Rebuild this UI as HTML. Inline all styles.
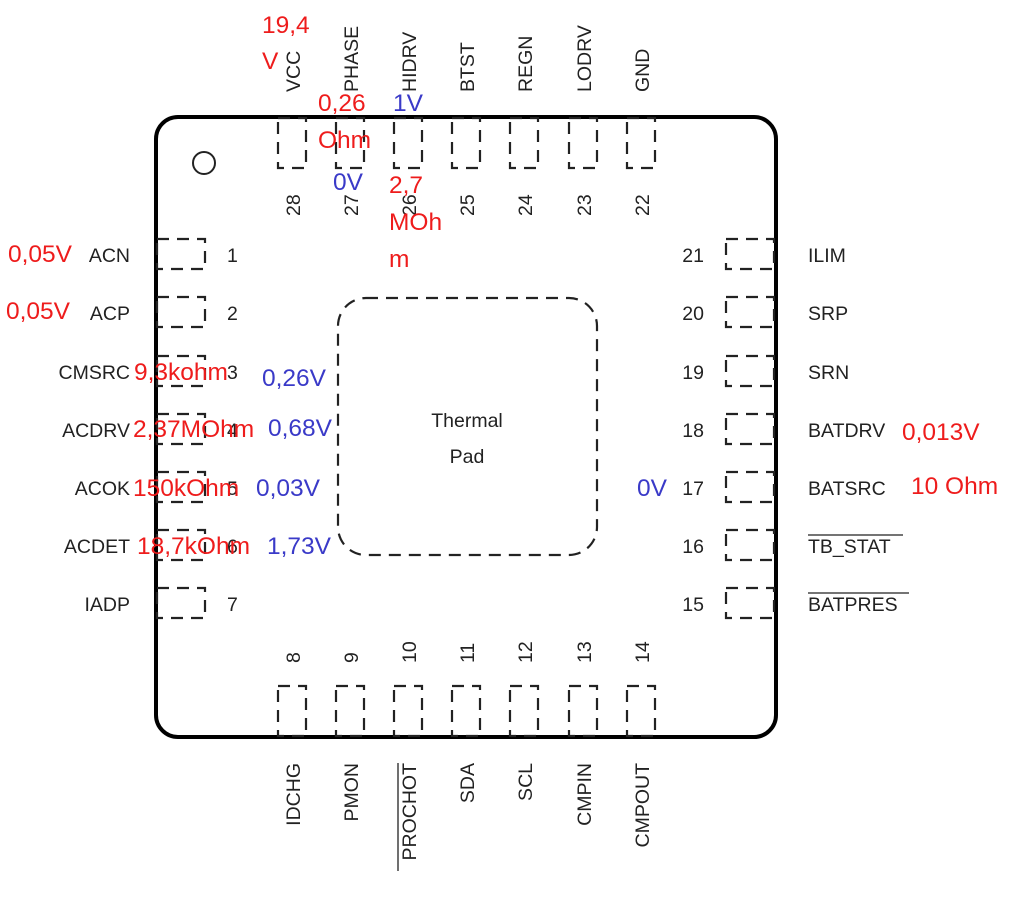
<!DOCTYPE html>
<html><head><meta charset="utf-8"><style>
html,body{margin:0;padding:0;background:#fff;}
svg{display:block;}
.l{font-family:"Liberation Sans",Arial,sans-serif;font-size:19.5px;fill:#222;}
.r{font-family:"Liberation Sans",Arial,sans-serif;font-size:24.5px;fill:#ee1c1c;}
.b{font-family:"Liberation Sans",Arial,sans-serif;font-size:24.5px;fill:#3a3ac8;}
.pad{fill:none;stroke:#222;stroke-width:2.2;stroke-dasharray:12 8;}
</style></head><body>
<svg width="1028" height="908" viewBox="0 0 1028 908" xmlns="http://www.w3.org/2000/svg">
<rect x="156" y="117" width="620" height="620" rx="22" fill="none" stroke="#000" stroke-width="4"/>
<circle cx="204" cy="163" r="11" fill="none" stroke="#222" stroke-width="2"/>
<rect x="338" y="298" width="259" height="257" rx="28" class="pad"/>
<text class="l" x="467" y="427" text-anchor="middle">Thermal</text>
<text class="l" x="467" y="463" text-anchor="middle">Pad</text>

<g>
<rect class="pad" x="278" y="118" width="28" height="50"/>
<rect class="pad" x="336" y="118" width="28" height="50"/>
<rect class="pad" x="394" y="118" width="28" height="50"/>
<rect class="pad" x="452" y="118" width="28" height="50"/>
<rect class="pad" x="510" y="118" width="28" height="50"/>
<rect class="pad" x="569" y="118" width="28" height="50"/>
<rect class="pad" x="627" y="118" width="28" height="50"/>
</g>
<g>
<rect class="pad" x="278" y="686" width="28" height="50"/>
<rect class="pad" x="336" y="686" width="28" height="50"/>
<rect class="pad" x="394" y="686" width="28" height="50"/>
<rect class="pad" x="452" y="686" width="28" height="50"/>
<rect class="pad" x="510" y="686" width="28" height="50"/>
<rect class="pad" x="569" y="686" width="28" height="50"/>
<rect class="pad" x="627" y="686" width="28" height="50"/>
</g>
<g>
<rect class="pad" x="157" y="239" width="48" height="30"/>
<rect class="pad" x="157" y="297" width="48" height="30"/>
<rect class="pad" x="157" y="356" width="48" height="30"/>
<rect class="pad" x="157" y="414" width="48" height="30"/>
<rect class="pad" x="157" y="472" width="48" height="30"/>
<rect class="pad" x="157" y="530" width="48" height="30"/>
<rect class="pad" x="157" y="588" width="48" height="30"/>
</g>
<g>
<rect class="pad" x="726" y="239" width="48" height="30"/>
<rect class="pad" x="726" y="297" width="48" height="30"/>
<rect class="pad" x="726" y="356" width="48" height="30"/>
<rect class="pad" x="726" y="414" width="48" height="30"/>
<rect class="pad" x="726" y="472" width="48" height="30"/>
<rect class="pad" x="726" y="530" width="48" height="30"/>
<rect class="pad" x="726" y="588" width="48" height="30"/>
</g>

<g class="l">
<text transform="translate(300,92) rotate(-90)">VCC</text>
<text transform="translate(358,92) rotate(-90)">PHASE</text>
<text transform="translate(416,92) rotate(-90)">HIDRV</text>
<text transform="translate(474,92) rotate(-90)">BTST</text>
<text transform="translate(532,92) rotate(-90)">REGN</text>
<text transform="translate(591,92) rotate(-90)">LODRV</text>
<text transform="translate(649,92) rotate(-90)">GND</text>
<text transform="translate(300,216) rotate(-90)">28</text>
<text transform="translate(358,216) rotate(-90)">27</text>
<text transform="translate(416,216) rotate(-90)">26</text>
<text transform="translate(474,216) rotate(-90)">25</text>
<text transform="translate(532,216) rotate(-90)">24</text>
<text transform="translate(591,216) rotate(-90)">23</text>
<text transform="translate(649,216) rotate(-90)">22</text>
</g>
<g class="l">
<text transform="translate(300,663) rotate(-90)">8</text>
<text transform="translate(358,663) rotate(-90)">9</text>
<text transform="translate(416,663) rotate(-90)">10</text>
<text transform="translate(474,663) rotate(-90)">11</text>
<text transform="translate(532,663) rotate(-90)">12</text>
<text transform="translate(591,663) rotate(-90)">13</text>
<text transform="translate(649,663) rotate(-90)">14</text>
<text transform="translate(300,763) rotate(-90)" text-anchor="end">IDCHG</text>
<text transform="translate(358,763) rotate(-90)" text-anchor="end">PMON</text>
<text transform="translate(416,763) rotate(-90)" text-anchor="end">PROCHOT</text>
<text transform="translate(474,763) rotate(-90)" text-anchor="end">SDA</text>
<text transform="translate(532,763) rotate(-90)" text-anchor="end">SCL</text>
<text transform="translate(591,763) rotate(-90)" text-anchor="end">CMPIN</text>
<text transform="translate(649,763) rotate(-90)" text-anchor="end">CMPOUT</text>
</g>
<line x1="398" y1="763" x2="398" y2="871" stroke="#222" stroke-width="1.3"/>

<g class="l" text-anchor="end">
<text x="130" y="262">ACN</text>
<text x="130" y="320">ACP</text>
<text x="130" y="379">CMSRC</text>
<text x="130" y="437">ACDRV</text>
<text x="130" y="495">ACOK</text>
<text x="130" y="553">ACDET</text>
<text x="130" y="611">IADP</text>
</g>
<g class="l">
<text x="227" y="262">1</text><text x="227" y="320">2</text><text x="227" y="379">3</text>
<text x="227" y="437">4</text><text x="227" y="495">5</text><text x="227" y="553">6</text><text x="227" y="611">7</text>
</g>
<g class="l">
<text x="808" y="262">ILIM</text>
<text x="808" y="320">SRP</text>
<text x="808" y="379">SRN</text>
<text x="808" y="437">BATDRV</text>
<text x="808" y="495">BATSRC</text>
<text x="808" y="553">TB_STAT</text>
<text x="808" y="611">BATPRES</text>
</g>
<line x1="808" y1="535" x2="903" y2="535" stroke="#222" stroke-width="1.3"/>
<line x1="808" y1="593" x2="909" y2="593" stroke="#222" stroke-width="1.3"/>
<g class="l" text-anchor="end">
<text x="704" y="262">21</text><text x="704" y="320">20</text><text x="704" y="379">19</text>
<text x="704" y="437">18</text><text x="704" y="495">17</text><text x="704" y="553">16</text><text x="704" y="611">15</text>
</g>

<text class="r" x="262" y="33">19,4</text>
<text class="r" x="262" y="69">V</text>
<text class="r" x="318" y="111">0,26</text>
<text class="r" x="318" y="148">Ohm</text>
<text class="b" x="393" y="111">1V</text>
<text class="b" x="333" y="190">0V</text>
<text class="r" x="389" y="193">2,7</text>
<text class="r" x="389" y="230">MOh</text>
<text class="r" x="389" y="267">m</text>
<text class="r" x="8" y="262">0,05V</text>
<text class="r" x="6" y="319">0,05V</text>
<text class="r" x="134" y="380">9,3kohm</text>
<text class="r" x="133" y="437">2,37MOhm</text>
<text class="r" x="133" y="496">150kOhm</text>
<text class="r" x="137" y="554">18,7kOhm</text>
<text class="b" x="262" y="386">0,26V</text>
<text class="b" x="268" y="436">0,68V</text>
<text class="b" x="256" y="496">0,03V</text>
<text class="b" x="267" y="554">1,73V</text>
<text class="b" x="637" y="496">0V</text>
<text class="r" x="902" y="440">0,013V</text>
<text class="r" x="911" y="494">10 Ohm</text>
</svg>
</body></html>
